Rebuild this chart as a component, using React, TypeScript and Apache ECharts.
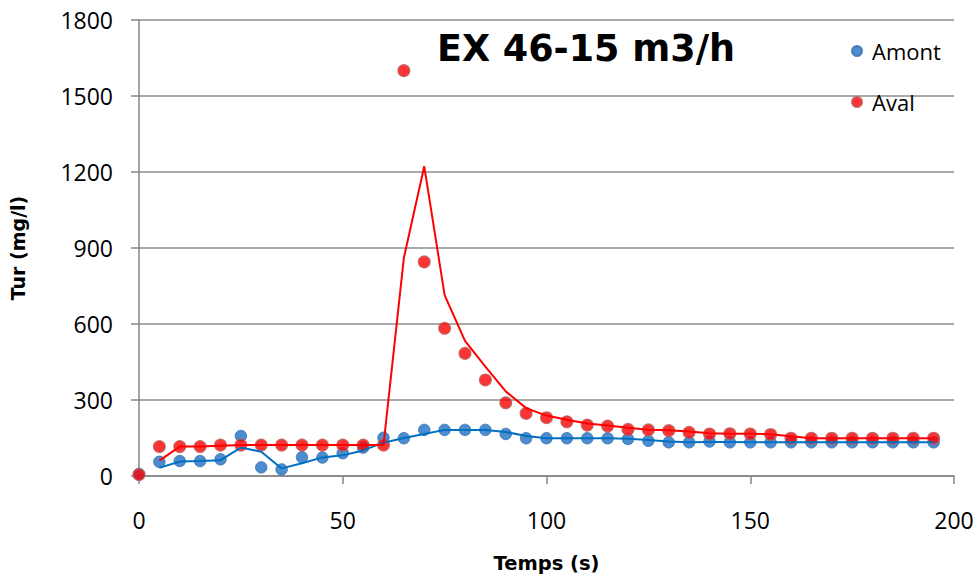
import React, { useEffect, useRef } from "react";
import * as echarts from "echarts";

const times = [0, 5, 10, 15, 20, 25, 30, 35, 40, 45, 50, 55, 60, 65, 70, 75, 80, 85, 90, 95, 100, 105, 110, 115, 120, 125, 130, 135, 140, 145, 150, 155, 160, 165, 170, 175, 180, 185, 190, 195];
const amont = [8, 56, 59, 59, 66, 158, 34, 26, 74, 73, 90, 112, 151, 149, 182, 182, 182, 182, 166, 149, 149, 149, 149, 149, 146, 139, 133, 133, 136, 133, 133, 133, 133, 133, 133, 133, 133, 133, 133, 133];
const aval = [5, 116, 116, 116, 122, 122, 122, 122, 122, 122, 122, 122, 122, 1600, 845, 583, 484, 379, 289, 247, 230, 214, 201, 197, 184, 182, 179, 172, 166, 167, 166, 164, 149, 149, 149, 149, 149, 149, 149, 149];
const yTicks = [0, 300, 600, 900, 1200, 1500, 1800];
const xTicks = [0, 50, 100, 150, 200];
const titleText = "EX 46-15 m3/h";

// Excel-style 2-period moving average trendline
function movingAvg(vals: number[]): number[][] {
  const out: number[][] = [];
  for (let i = 1; i < vals.length; i++) out.push([times[i], (vals[i - 1] + vals[i]) / 2]);
  return out;
}

export default function App() {
  const ref = useRef<HTMLDivElement>(null);
  useEffect(() => {
    if (!ref.current) return;
    const chart = echarts.init(ref.current, null, { renderer: "svg" });
    const font = "'Open Sans', Lato, sans-serif";
    const bold = "'DejaVu Sans', sans-serif";
    chart.setOption({
      animation: false,
      textStyle: { fontFamily: font },
      title: {
        text: titleText,
        left: 432,
        top: 25,
        textStyle: { fontFamily: bold, fontWeight: "bold", fontSize: 36.5, color: "#000" },
      },
      legend: {
        data: ["Amont", "Aval"],
        orient: "vertical",
        left: 846,
        top: 35,
        itemGap: 29,
        itemWidth: 10,
        itemHeight: 10,
        icon: "circle",
        textStyle: { fontFamily: font, fontSize: 22, color: "#000", padding: [0, 0, 0, 5] },
      },
      grid: { left: 139, right: 25, top: 20, bottom: 103, outerBoundsMode: "none", containLabel: false },
      xAxis: {
        type: "value",
        min: xTicks[0],
        max: xTicks[xTicks.length - 1],
        interval: 50,
        name: "Temps (s)",
        nameLocation: "middle",
        nameGap: 77,
        nameTextStyle: { fontFamily: bold, fontWeight: "bold", fontSize: 19.5, color: "#000" },
        axisLine: { show: true, lineStyle: { color: "#868686", width: 1.5 } },
        axisTick: { show: true, length: 8, inside: false, lineStyle: { color: "#868686", width: 1.5 } },
        axisLabel: { margin: 32, fontSize: 23, color: "#000", fontFamily: font, formatter: (v: number) => String(v) },
        splitLine: { show: false },
      },
      yAxis: {
        type: "value",
        min: yTicks[0],
        max: yTicks[yTicks.length - 1],
        interval: 300,
        name: "Tur (mg/l)",
        nameLocation: "middle",
        nameGap: 112,
        nameRotate: 90,
        nameTextStyle: { fontFamily: bold, fontWeight: "bold", fontSize: 19, color: "#000" },
        axisLine: { show: true, lineStyle: { color: "#868686", width: 1.5 } },
        axisTick: { show: true, length: 8, lineStyle: { color: "#868686", width: 1.5 } },
        axisLabel: { margin: 26, fontSize: 23, color: "#000", fontFamily: font, formatter: (v: number) => String(v) },
        splitLine: { show: true, lineStyle: { color: "#8c8c8c", width: 1.5 } },
      },
      series: [
        {
          name: "Amont",
          type: "scatter",
          data: times.map((t, i) => [t, amont[i]]),
          symbol: "circle",
          symbolSize: 11.5,
          itemStyle: { color: "#1f6fc6", borderColor: "#3a6fae", borderWidth: 1 },
          z: 2,
        },
        {
          name: "Aval",
          type: "scatter",
          data: times.map((t, i) => [t, aval[i]]),
          symbol: "circle",
          symbolSize: 11.5,
          itemStyle: { color: "#ff0000", borderColor: "#c0504d", borderWidth: 1.5 },
          z: 3,
        },
        {
          name: "MA Amont",
          type: "line",
          data: movingAvg(amont),
          showSymbol: false,
          symbol: "none",
          lineStyle: { color: "#0070c0", width: 2 },
          z: 4,
        },
        {
          name: "MA Aval",
          type: "line",
          data: movingAvg(aval),
          showSymbol: false,
          symbol: "none",
          lineStyle: { color: "#ff0000", width: 2 },
          z: 5,
        },
      ],
    });
    return () => chart.dispose();
  }, []);
  return <div ref={ref} style={{ width: 979, height: 579, position: "absolute", left: 0, top: 0 }} />;
}
